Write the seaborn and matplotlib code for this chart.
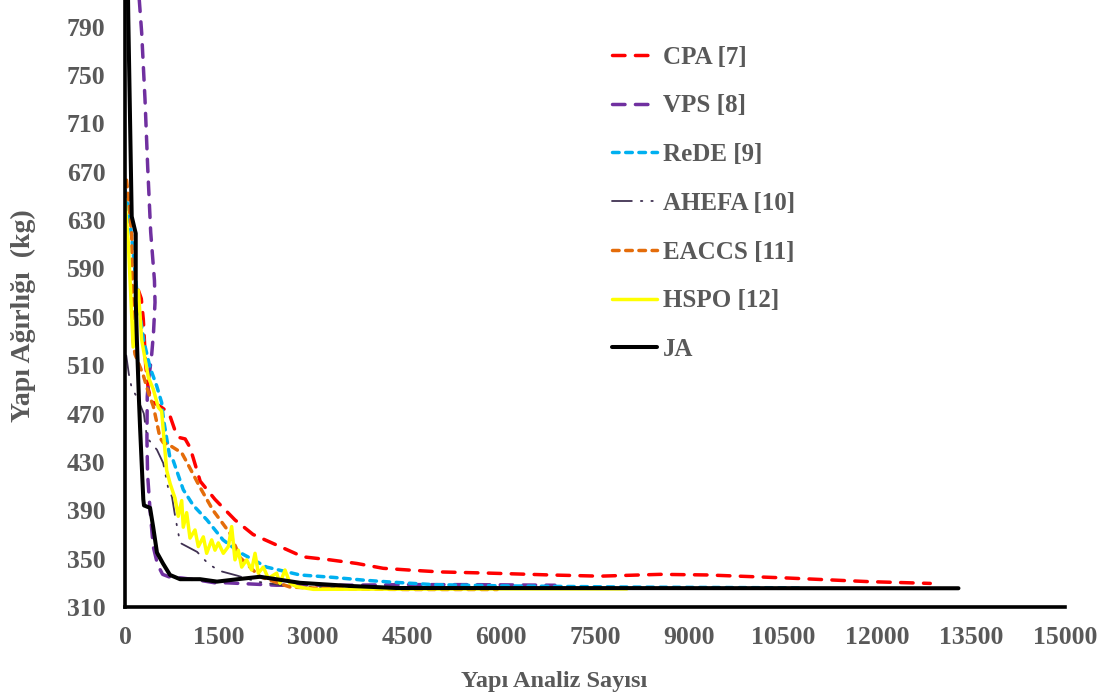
import matplotlib
matplotlib.use("Agg")
import matplotlib.pyplot as plt
import seaborn as sns
import pandas as pd

# Veriler
cpa_x = [213, 260, 292, 330, 372, 426, 560, 665, 718, 798, 878, 960, 1037, 1090, 1200, 1436, 1755,
         2043, 2473, 2840, 3270, 3700, 4120, 4550, 5030, 5820, 6780, 7580, 8540, 9290, 10560, 11860, 12850]
cpa_y = [572, 565, 548, 510, 490, 480, 476, 472, 468, 456, 450, 449, 442, 433, 414, 399, 382,
         370, 360, 351.5, 349, 346, 342, 340.5, 339, 338, 336.5, 335.5, 337, 336.5, 334, 331, 329.5]

vps_x = [205, 228, 266, 319, 362, 410, 470, 479, 455, 420, 380, 355, 350, 360, 400, 450, 520, 600,
         700, 905, 1200, 1436, 1627, 2420, 3500, 4500, 5500, 6860]
vps_y = [850, 812, 785, 730, 674, 620, 580, 562, 537, 515, 500, 484, 450, 420, 390, 360, 345, 337,
         335, 334, 332, 330, 330, 328, 328, 328.5, 328.5, 328]

rede_x = [0, 50, 107, 200, 300, 400, 505, 585, 612, 718, 770, 930, 1090, 1308, 1564, 1835, 2260,
          2792, 3324, 3855, 4280, 4920, 6000, 8000, 10850]
rede_y = [655, 640, 616, 565, 530, 508, 493, 479, 466, 433, 431, 407, 394, 382, 365.5, 355, 343,
          336.5, 334.5, 332, 330.5, 328.5, 327.5, 326.5, 325.8]

ahefa_x = [20, 60, 107, 186, 300, 351, 510, 610, 686, 750, 800, 880, 1150, 1324, 1500, 1787,
           2100, 2500, 3000, 5000, 8500]
ahefa_y = [518, 503, 491, 484, 470, 450, 440, 429, 409, 401, 385, 363, 355.6, 346, 340, 336,
           331, 328, 326.5, 326, 325.8]

eaccs_x = [25, 60, 107, 120, 130, 160, 290, 370, 452, 510, 558, 610, 745, 905, 984, 1197, 1404,
           1675, 1835, 2154, 2633, 3324, 4500, 5940]
eaccs_y = [663, 645, 618, 570, 530, 519, 502, 488, 476, 462, 450, 446, 442.7, 437.5, 430, 409, 390,
           371, 351, 335, 326.5, 325, 324.5, 324.5]

hspo_x = [0, 53, 90, 130, 213, 266, 372, 452, 532, 585, 612, 665, 720, 798, 850, 905, 930, 984,
          1037, 1117, 1170, 1250, 1303, 1383, 1436, 1489, 1569, 1649, 1702, 1755, 1808, 1862,
          1941, 2021, 2075, 2127, 2207, 2287, 2420, 2473, 2553, 2633, 2740, 3005, 4000, 6000, 8010]
hspo_y = [647, 611, 570, 525, 572, 531, 500, 490, 475, 472, 455, 423, 412, 400, 385, 398, 376, 388,
          367, 373.7, 360, 368, 354.4, 365.5, 357, 363, 354.4, 360, 376.5, 349, 357, 343,
          349, 340.6, 354.4, 338, 343, 333.7, 338, 329.6, 340.6, 329.6, 326.8, 324.6, 324.8, 325, 325]

ja_x = [30, 53, 107, 171, 171, 190, 223, 240, 292, 303, 400, 450, 510, 606, 718, 878, 1197,
        1468, 1800, 2154, 2792, 3590, 4340, 13300]
ja_y = [880, 796, 633, 619, 564, 530, 481, 459, 399, 394, 392, 376, 355, 346, 336.5, 333, 333,
        331, 333, 335, 330, 327.4, 325.7, 325.5]

x_ticks = list(range(0, 15001, 1500))
y_ticks = list(range(310, 791, 40))

GRAY = "#595959"

sns.set_style("white")
plt.rcParams["font.family"] = ["Liberation Serif", "DejaVu Serif"]
plt.rcParams["font.weight"] = "bold"

fig = plt.figure(figsize=(11.06, 6.99), dpi=100)
ax = fig.add_axes([125 / 1106, 1 - 607 / 699, 940 / 1106, 607 / 699])

series = [
    ("CPA [7]", cpa_x, cpa_y, "#FF0000", 2.5, (0, (3.6, 3.0))),
    ("VPS [8]", vps_x, vps_y, "#7030A0", 2.5, (0, (3.6, 3.0))),
    ("ReDE [9]", rede_x, rede_y, "#00B0F0", 2.5, (0, (1.9, 1.9))),
    ("AHEFA [10]", ahefa_x, ahefa_y, "#403152", 1.3, (0, (11, 5, 0.8, 5, 0.8, 5))),
    ("EACCS [11]", eaccs_x, eaccs_y, "#E46C0A", 2.5, (0, (1.9, 1.9))),
    ("HSPO [12]", hspo_x, hspo_y, "#FFFF00", 2.5, "-"),
    ("JA", ja_x, ja_y, "#000000", 2.9, "-"),
]

for name, xs, ys, col, lw, ls in series:
    df = pd.DataFrame({"x": xs, "y": ys})
    sns.lineplot(data=df, x="x", y="y", ax=ax, sort=False, estimator=None,
                 color=col, linewidth=lw, linestyle=ls, label=name,
                 dash_capstyle="round", solid_capstyle="round")

ax.set_xlim(0, 15000)
ax.set_ylim(310, 812)
ax.set_xticks(x_ticks)
ax.set_yticks(y_ticks)
ax.tick_params(axis="both", length=0, labelsize=18.5, labelcolor=GRAY, pad=14)
for lab in ax.get_xticklabels() + ax.get_yticklabels():
    lab.set_fontweight("bold")

for side in ["top", "right"]:
    ax.spines[side].set_visible(False)
for side in ["left", "bottom"]:
    ax.spines[side].set_color("black")
    ax.spines[side].set_linewidth(2.6)

ax.set_xlabel("Yapı Analiz Sayısı", fontsize=17.5, fontweight="bold", color=GRAY)
ax.set_ylabel("Yapı Ağırlığı  (kg)", fontsize=20, fontweight="bold", color=GRAY)
ax.xaxis.set_label_coords(0.457, -0.105)
ax.yaxis.set_label_coords(-0.095, 0.48)

leg = ax.legend(loc="upper left", bbox_to_anchor=(0.518, 0.925), frameon=False,
                fontsize=18, handlelength=1.8, handletextpad=0.25, labelspacing=1.03,
                borderpad=0, borderaxespad=0)
for t in leg.get_texts():
    t.set_color(GRAY)
    t.set_fontweight("bold")

plt.savefig("out.png", dpi=100)
